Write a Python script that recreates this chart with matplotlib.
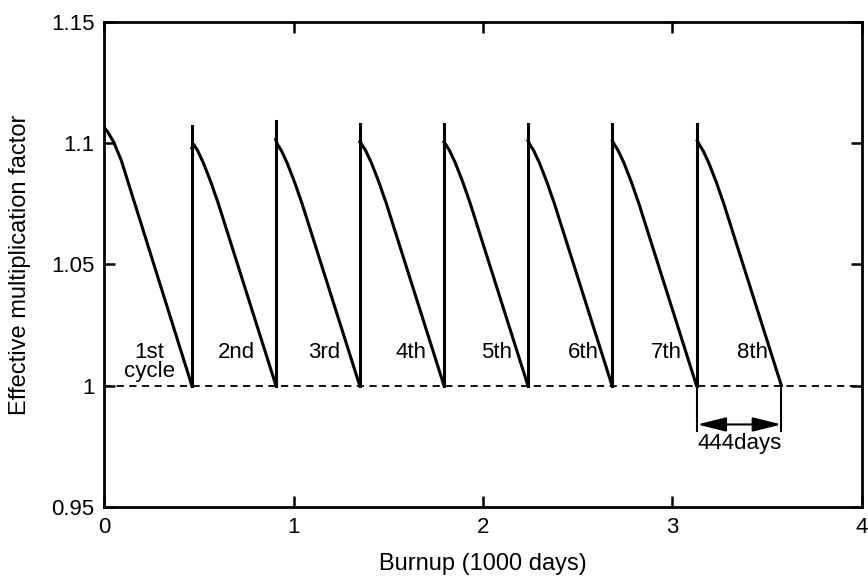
import matplotlib
matplotlib.use("Agg")
from matplotlib import pyplot as plt
from matplotlib.ticker import FormatStrFormatter

plt.rcParams['font.family'] = ['Liberation Sans', 'DejaVu Sans']

# first cycle (starts at fresh core)
first_x = [0.0, 0.02, 0.05, 0.09, 0.13, 0.463]
first_k = [1.1065, 1.1045, 1.1005, 1.093, 1.083, 1.0]

# cycles 2..8 : start burnup, k right after refuelling, top of the jump
cycle_start = [0.463, 0.905, 1.35, 1.793, 2.237, 2.683, 3.131]
cycle_k0 = [1.098, 1.1015, 1.1005, 1.1005, 1.101, 1.101, 1.101]
spike_top = [1.107, 1.109, 1.108, 1.108, 1.108, 1.108, 1.108]

# shape of one cycle (days from start in 1000 days, k)
profile_dt = [0.0, 0.01, 0.03, 0.06, 0.10, 0.14, 0.444]
profile_k = [1.100, 1.0995, 1.097, 1.092, 1.084, 1.075, 1.0]

cycle_labels = ['1st\ncycle', '2nd', '3rd', '4th', '5th', '6th', '7th', '8th']
label_x = [0.24, 0.70, 1.16, 1.62, 2.07, 2.53, 2.97, 3.42]
label_y = [1.0097, 1.0135, 1.0135, 1.0135, 1.0135, 1.0135, 1.0135, 1.0135]

fig = plt.figure(figsize=(8.68, 5.78), dpi=100)
ax = fig.add_axes([0.12, 0.123, 0.873, 0.839])

lw = 2.2
ax.plot(first_x, first_k, color='black', lw=lw)
for i in range(len(cycle_start)):
    s = cycle_start[i]
    xs = [s + d for d in profile_dt]
    ys = [cycle_k0[i]] + profile_k[1:]
    ax.plot(xs, ys, color='black', lw=lw)
    ax.plot([s, s], [1.0, spike_top[i]], color='black', lw=lw)

# k = 1 line
ax.axhline(1.0, color='black', lw=1.3, ls=(0, (4, 3)))

for i in range(len(cycle_labels)):
    ax.text(label_x[i], label_y[i], cycle_labels[i], ha='center', va='center',
            fontsize=16, linespacing=0.85)

# 444 days span of last cycle
x_a = cycle_start[-1]
x_b = cycle_start[-1] + profile_dt[-1]
ax.plot([x_a, x_a], [1.0, 0.9815], color='black', lw=1.5)
ax.plot([x_b, x_b], [1.0, 0.9815], color='black', lw=1.5)
ax.annotate('', xy=(x_b, 0.984), xytext=(x_a, 0.984),
            arrowprops=dict(arrowstyle='<|-|>,head_length=0.8,head_width=0.2',
                            color='black', lw=1.5,
                            mutation_scale=22, shrinkA=0, shrinkB=0))
ax.text((x_a + x_b) / 2, 0.9763, '444days', ha='center', va='center', fontsize=16)

ax.set_xlim(0, 4)
ax.set_ylim(0.95, 1.15)
ax.set_xticks([0, 1, 2, 3, 4])
ax.set_yticks([0.95, 1.0, 1.05, 1.1, 1.15])
ax.yaxis.set_major_formatter(FormatStrFormatter('%g'))
ax.tick_params(direction='in', length=8, width=1.8, top=True, right=True,
               labelsize=16, pad=7)
for sp in ax.spines.values():
    sp.set_linewidth(2)

ax.set_xlabel('Burnup (1000 days)', fontsize=17, labelpad=11)
ax.set_ylabel('Effective multiplication factor', fontsize=17, labelpad=14)

fig.savefig('out.png', dpi=100)
